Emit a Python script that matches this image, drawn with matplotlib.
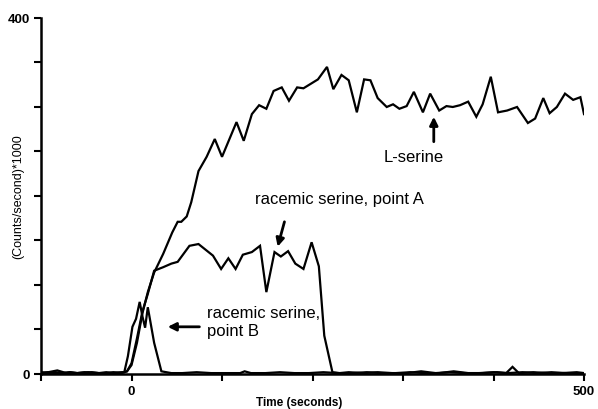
import matplotlib.pyplot as plt

plt.rcParams['font.family'] = ['Liberation Sans', 'DejaVu Sans']

# L-serine trace (time in s, counts/s /1000)
t_l = [-100, -92, -84, -76, -68, -60, -52, -44, -36, -28, -20, -12, -5, 0, 6, 12, 18, 25,
       35, 45, 51, 55, 61, 66, 74, 83, 92, 100, 116, 124, 133, 141, 149, 157, 166, 174,
       183, 190, 198, 206, 216, 223, 232, 240, 249, 257, 264, 272, 282, 289, 296, 304,
       312, 322, 330, 340, 348, 355, 363, 372, 381, 388, 397, 405, 415, 426, 438, 446,
       455, 462, 470, 479, 488, 496, 500]
y_l = [2, 1, 2, 1, 2, 1, 1, 2, 1, 2, 1, 1, 3, 10, 35, 68, 92, 114,
       135, 159, 171, 171, 177, 193, 228, 244, 264, 244, 283, 262, 292, 302, 298, 318, 322, 307,
       322, 321, 326, 331, 345, 320, 336, 330, 294, 331, 330, 310, 300, 303, 298, 301,
       317, 294, 315, 296, 301, 300, 302, 306, 289, 303, 334, 294, 296, 300, 282, 287,
       310, 293, 300, 315, 308, 311, 292]

# racemic serine, point A
t_a = [-100, -92, -84, -76, -68, -60, -52, -44, -36, -28, -20, -12, -5, 0, 6, 12, 18, 25,
       35, 44, 51, 64, 74, 90, 99, 107, 115, 123, 133, 142, 149, 158, 165, 173, 181, 190,
       199, 207, 213, 222, 230, 240, 256, 272, 288, 304, 320, 336, 352, 368, 384, 400,
       416, 432, 448, 464, 480, 500]
y_a = [1, 2, 1, 1, 2, 1, 2, 1, 1, 1, 2, 1, 3, 12, 40, 70, 90, 116,
       120, 124, 126, 144, 146, 133, 118, 130, 118, 134, 137, 144, 92, 137, 132, 138, 124, 118,
       148, 121, 43, 2, 1, 2, 1, 2, 1, 1, 3, 1, 2, 1, 1, 2,
       1, 2, 1, 2, 1, 1]

# racemic serine, point B
t_b = [-100, -92, -82, -72, -60, -48, -36, -24, -12, -8, -4, 1, 5, 9, 12, 15, 18, 25, 33,
       44, 56, 72, 88, 104, 120, 125, 132, 148, 164, 180, 196, 212, 228, 244, 260, 276,
       292, 308, 324, 340, 356, 372, 388, 404, 414, 421, 428, 444, 460, 476, 492, 500]
y_b = [1, 2, 4, 1, 1, 2, 1, 1, 2, 2, 20, 53, 62, 81, 65, 52, 75, 35, 3,
       1, 1, 2, 1, 1, 1, 3, 1, 1, 2, 1, 1, 2, 1, 1, 2, 1,
       1, 2, 1, 1, 3, 1, 1, 2, 1, 8, 1, 2, 1, 1, 2, 1]

x_ticks = [-100, 0, 100, 200, 300, 400, 500]
x_labels = ['', '0', '', '', '', '', '500']
y_ticks = [0, 50, 100, 150, 200, 250, 300, 350, 400]
y_labels = ['0', '', '', '', '', '', '', '', '400']

fig = plt.figure(figsize=(5.98, 4.10), dpi=100)
ax = fig.add_axes([0.0686, 0.0854, 0.908, 0.8683])

for t, y in [(t_l, y_l), (t_a, y_a), (t_b, y_b)]:
    ax.plot(t, y, color='black', lw=1.6, solid_joinstyle='miter')

ax.set_xlim(-100, 500)
ax.set_ylim(0, 400)
ax.set_xticks(x_ticks)
ax.set_xticklabels(x_labels, fontsize=9.5, fontweight='bold')
ax.set_yticks(y_ticks)
ax.set_yticklabels(y_labels, fontsize=9.5, fontweight='bold')
ax.tick_params(direction='out', length=5, width=1.5, pad=3)

for s in ['top', 'right']:
    ax.spines[s].set_visible(False)
for s in ['left', 'bottom']:
    ax.spines[s].set_linewidth(1.8)

ax.set_xlabel('Time (seconds)', fontsize=8.5, fontweight='bold', va='center')
ax.xaxis.set_label_coords(0.475, -0.079)
ax.set_ylabel('(Counts/second)*1000', fontsize=9)
ax.yaxis.set_label_coords(-0.03, 0.5)

arrow = dict(arrowstyle='-|>', color='black', lw=2, mutation_scale=12, shrinkA=0, shrinkB=0)

ax.annotate('', xy=(334, 289), xytext=(334, 261), arrowprops=arrow)
ax.text(312, 244, 'L-serine', fontsize=12, ha='center', va='center')

ax.annotate('', xy=(161.5, 143), xytext=(169, 171), arrowprops=arrow)
ax.text(136, 197, 'racemic serine, point A', fontsize=12, ha='left', va='center')

ax.annotate('', xy=(40, 53), xytext=(75, 53), arrowprops=arrow)
ax.text(83, 59, 'racemic serine,\npoint B', fontsize=12, ha='left', va='center',
        linespacing=1.2)

fig.savefig('out.png', dpi=100)
